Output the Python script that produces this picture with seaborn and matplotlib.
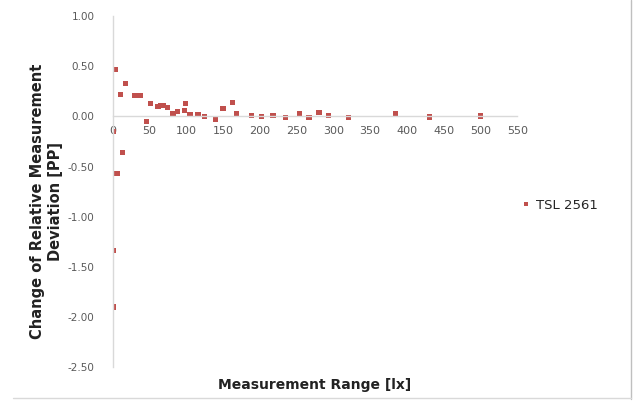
import numpy as np
import pandas as pd
import matplotlib
matplotlib.use("Agg")
import matplotlib.pyplot as plt
from matplotlib.ticker import MultipleLocator, FormatStrFormatter
from matplotlib.lines import Line2D
import seaborn as sns

sns.set_style("white")
plt.rcParams['font.family'] = ['DejaVu Sans']
plt.rcParams['axes.unicode_minus'] = False

## values
range_lx = [0.5, 0.5, 1.4, 3.6, 5.9, 10.5, 13.6, 17.3, 30, 34, 37.7, 45.5, 50.9,
            61.4, 65.5, 68.6, 74, 82, 88, 98, 98.6, 105, 116, 124.5, 139.5,
            150, 163, 168, 188.6, 202, 216.8, 219, 235, 254, 266.8, 280.5,
            293.8, 320.8, 384, 431, 500.5]
deviation_pp = [-1.90, -1.34, -0.15, 0.47, -0.57, 0.22, -0.36, 0.33, 0.21, 0.21,
                0.21, -0.05, 0.13, 0.10, 0.11, 0.105, 0.09, 0.03, 0.045, 0.055,
                0.125, 0.02, 0.02, 0.0, -0.025, 0.075, 0.14, 0.03, 0.01, 0.0,
                0.007, 0.013, -0.01, 0.03, -0.01, 0.04, 0.01, -0.01, 0.025,
                -0.005, 0.005]
series_name = "TSL 2561"

df = pd.DataFrame({"x": range_lx, "y": deviation_pp, "sensor": series_name})

fig = plt.figure(figsize=(6.37, 4.03), dpi=100)
ax = fig.add_axes([0.177, 0.089, 0.635, 0.871])

sns.scatterplot(data=df, x="x", y="y", hue="sensor", palette=["#C0504D"],
                marker="s", s=14, edgecolor="none", ax=ax)

ax.set_xlim(0, 550)
ax.set_ylim(-2.5, 1.0)
ax.xaxis.set_major_locator(MultipleLocator(50))
ax.xaxis.set_minor_locator(MultipleLocator(10))
ax.yaxis.set_major_locator(MultipleLocator(0.5))
ax.yaxis.set_major_formatter(FormatStrFormatter('%.2f'))

for s in ["top", "right"]:
    ax.spines[s].set_visible(False)
ax.spines["bottom"].set_position(("data", 0))
ax.spines["left"].set_position(("data", 0))
for s in ["bottom", "left"]:
    ax.spines[s].set_color("#D9D9D9")
    ax.spines[s].set_linewidth(1.0)

ax.tick_params(axis="both", which="both", direction="out", colors="#BFBFBF",
               labelcolor="#595959", labelsize=7.5)
ax.tick_params(axis="x", which="major", length=4, pad=3, labelsize=8)
ax.tick_params(axis="x", which="minor", length=3)
ax.tick_params(axis="y", length=4, pad=9)

ax.set_xlabel("")
ax.set_ylabel("")
fig.text(0.494, 0.045, "Measurement Range [lx]", ha="center", va="center",
         fontsize=10, fontweight="bold", color="#222222")
fig.text(0.073, 0.50, "Change of Relative Measurement\nDeviation [PP]",
         ha="center", va="center", rotation=90, fontsize=10.5,
         fontweight="bold", color="#222222", linespacing=1.2)

ax.legend(loc="center left", bbox_to_anchor=(0.795, 0.49),
          bbox_transform=fig.transFigure, frameon=False, fontsize=9.5,
          handlelength=1.2, handletextpad=0.15, markerscale=0.9)

# light chart border on right and bottom
fig.add_artist(Line2D([0.99, 0.99], [0.01, 1.0], transform=fig.transFigure,
                      color="#BFBFBF", lw=1))
fig.add_artist(Line2D([0.02, 0.99], [0.013, 0.013], transform=fig.transFigure,
                      color="#D9D9D9", lw=1))

fig.savefig("out.png", dpi=100)
plt.close()
